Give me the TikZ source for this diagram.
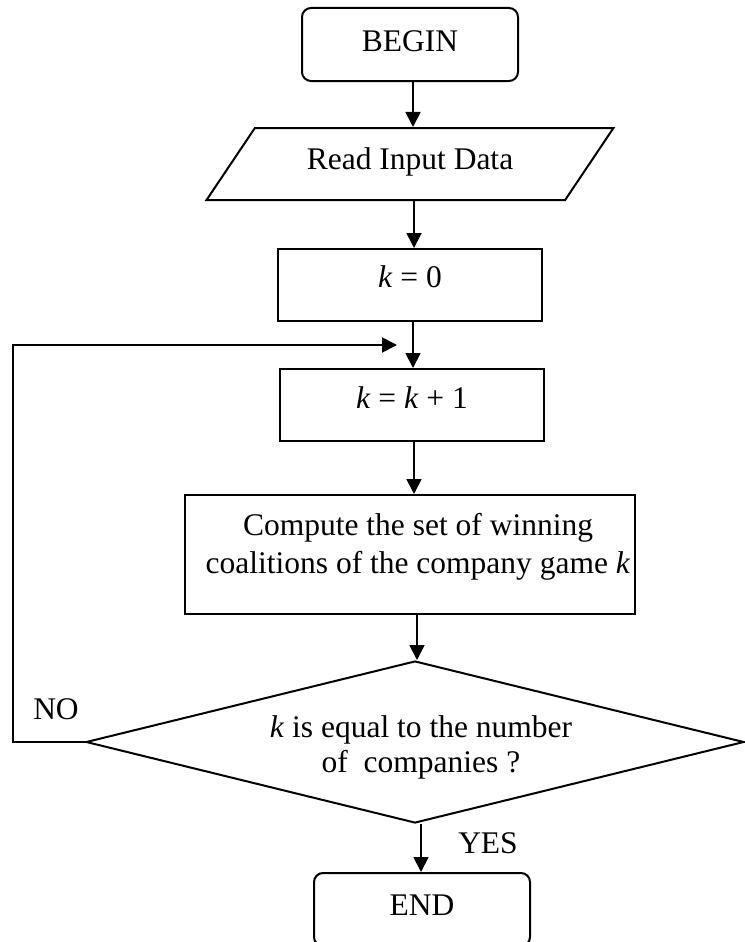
\documentclass[tikz,border=0pt]{standalone}
\usepackage{fontspec}
\setmainfont{Liberation Serif}
\usetikzlibrary{arrows.meta,shapes.geometric}
\newcommand{\liftby}[2]{\raisebox{#1}[\height][\depth]{#2}}
\begin{document}
\begin{tikzpicture}[x=1pt,y=-1pt,
  every node/.style={font=\fontsize{31.5}{38}\selectfont},
  shapeline/.style={draw, line width=2pt, inner sep=0pt},
  term/.style={shapeline, rounded corners=9pt, minimum width=216pt, minimum height=73pt},
  procbox/.style={shapeline, minimum height=72pt},
  iobox/.style={shapeline, trapezium, trapezium left angle=41.6, trapezium right angle=138.4,
     trapezium stretches=true, minimum width=407pt, minimum height=72pt},
  decision/.style={shapeline, diamond, minimum width=658pt, minimum height=162pt},
  txt/.style={align=center, inner sep=0pt},
  arr/.style={-{Triangle[length=15pt,width=15pt]}, line width=1.8pt},
  loopline/.style={line width=2pt}]
\useasboundingbox (0,0) rectangle (744,942);

\node[term] (begin) at (410,44.5) {\liftby{3.5pt}{BEGIN}};
\node[iobox] (read) at (410,164) {\liftby{2pt}{Read Input Data}};
\node[procbox, minimum width=264pt] (k0) at (410,285) {\liftby{8pt}{\textit{k} = 0}};
\node[procbox, minimum width=264pt] (kk) at (412,405) {\liftby{7.5pt}{\textit{k} = \textit{k} + 1}};
\node[procbox, minimum width=450pt, minimum height=119pt] (comp) at (410,554.5) {};
\node[txt] (compt) at (418,547) {Compute the set of winning\\coalitions of the company game \textit{k}};
\node[decision] (dec) at (415,742) {};
\node[txt] (dect) at (421,747) {\textit{k} is equal to the number\\[-3pt]of~ companies ?};
\node[term] (end) at (422,909.5) {\liftby{4.5pt}{END}};

\node[inner sep=0pt] (no) at (56,709) {NO};
\node[inner sep=0pt] (yes) at (488,843) {YES};

\coordinate (lc) at (13,345);
\coordinate (loopend) at (397,345);

\draw[arr] ([xshift=3pt]begin.south) -- ([xshift=3pt]begin.south |- read.north);
\draw[arr] ([xshift=4pt]read.south) -- ([xshift=4pt]read.south |- k0.north);
\draw[arr] ([xshift=3pt]k0.south) -- ([xshift=3pt]k0.south |- kk.north);
\draw[arr] ([xshift=2pt]kk.south) -- ([xshift=2pt]kk.south |- comp.north);
\draw[arr] ([xshift=7pt]comp.south) -- ([xshift=7pt]comp.south |- dec.north);
\draw[arr] ([xshift=6pt]dec.south) -- ([xshift=6pt]dec.south |- end.north);
\draw[arr, line width=2pt] (dec.west) -| (lc) -- (loopend);
\end{tikzpicture}
\end{document}
